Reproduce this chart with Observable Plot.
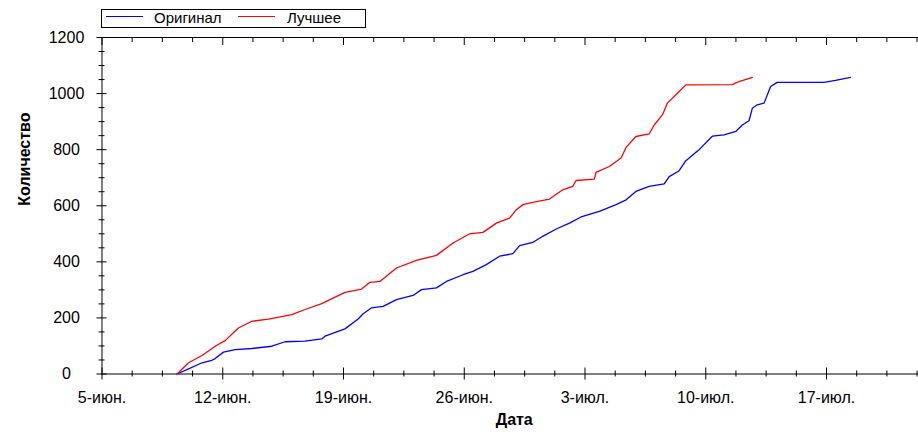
<!DOCTYPE html>
<html>
<head>
<meta charset="utf-8">
<script src="https://cdn.jsdelivr.net/npm/d3@7"></script>
<script src="https://cdn.jsdelivr.net/npm/@observablehq/plot@0.6"></script>
<style>
  body { margin: 0; background: #fff; font-family: "Liberation Sans", Arial, sans-serif; }
  #wrap { position: relative; width: 918px; height: 435px; }
  #legend { position: absolute; left: 101px; top: 9px; width: 265px; height: 19px; border: 1px solid #000; box-sizing: border-box; font-size: 15px; line-height: 17px; background: #fff; }
  #legend .ln { position: absolute; top: 6px; height: 0; width: 37px; border-top: 1px solid; }
  #legend .tx { position: absolute; top: -1px; white-space: nowrap; color: #000; }
  svg { position: absolute; left: 0; top: 0; }
</style>
</head>
<body>
<div id="wrap">
  <div id="legend">
    <span class="ln" style="left:4px;border-color:#0000ff"></span>
    <span class="tx" style="left:52px">Оригинал</span>
    <span class="ln" style="left:136px;border-color:#ff0000"></span>
    <span class="tx" style="left:185px">Лучшее</span>
  </div>
</div>
<script>
// ---- data ----
const seriesNames = ["Оригинал", "Лучшее"];
const seriesColors = ["#0000ff", "#ff0000"];

const origDates = ["06-09 08:24","06-10 00:30","06-10 19:10","06-11 08:50","06-11 13:25","06-12 01:00","06-12 17:15","06-13 16:35","06-14 20:10","06-15 14:40","06-16 18:30","06-17 17:45","06-17 22:20","06-19 02:00","06-19 20:25","06-20 03:20","06-20 15:10","06-21 07:10","06-22 01:40","06-23 00:45","06-23 12:30","06-24 09:20","06-24 23:15","06-25 22:20","06-26 12:00","06-27 06:40","06-28 01:10","06-28 19:40","06-29 05:00","06-29 23:15","06-30 13:10","07-01 08:00","07-02 02:24","07-02 18:30","07-03 19:55","07-04 19:10","07-05 09:10","07-05 22:50","07-06 17:15","07-07 14:10","07-07 21:10","07-08 11:00","07-08 20:00","07-09 10:00","07-09 14:50","07-10 09:10","07-11 01:25","07-11 17:45","07-12 02:50","07-12 12:15","07-12 16:50","07-12 23:45","07-13 09:10","07-13 18:15","07-14 03:20","07-16 20:25","07-17 12:30","07-18 09:20"];
const origValues = [0,18,40,49,55,78,87,91,99,115,117,125,135,161,196,215,236,241,265,280,301,307,330,354,366,390,420,429,458,469,491,517,538,560,580,604,621,651,669,678,704,725,760,790,800,848,853,865,888,903,948,960,966,1025,1040,1040,1047,1058];

const bestDates = ["06-09 08:24","06-10 00:30","06-10 19:10","06-11 13:25","06-12 03:20","06-12 21:50","06-13 16:35","06-14 15:35","06-16 00:00","06-16 18:30","06-17 17:45","06-19 02:00","06-20 01:10","06-20 12:45","06-21 02:40","06-22 01:40","06-23 05:30","06-24 09:20","06-25 08:24","06-26 07:30","06-27 02:00","06-27 20:40","06-28 15:00","06-29 00:30","06-29 09:36","06-29 23:15","06-30 22:35","07-01 17:00","07-02 07:00","07-02 11:30","07-03 13:00","07-03 15:20","07-04 09:50","07-05 02:10","07-05 09:10","07-05 22:50","07-06 17:15","07-07 00:15","07-07 11:45","07-07 18:40","07-08 08:40","07-08 20:25","07-11 13:00","07-11 22:20","07-12 16:50"];
const bestValues = [0,40,66,99,119,164,188,196,212,230,251,291,303,327,330,378,405,423,467,500,505,538,556,586,604,612,624,657,669,690,695,719,740,770,808,847,856,888,924,966,1001,1031,1032,1043,1058];

const xTickDates = ["2023-06-05","2023-06-12","2023-06-19","2023-06-26","2023-07-03","2023-07-10","2023-07-17"];
const xTickLabels = ["5-июн.","12-июн.","19-июн.","26-июн.","3-июл.","10-июл.","17-июл."];
const yTicks = [0,200,400,600,800,1000,1200];
const xTitle = "Дата";
const yTitle = "Количество";

// ---- build ----
const parseT = d3.utcParse("%Y-%m-%d %H:%M");
const parseD = d3.utcParse("%Y-%m-%d");
const rows = [
  ...origDates.map((d, i) => ({series: seriesNames[0], date: parseT("2023-" + d), value: origValues[i]})),
  ...bestDates.map((d, i) => ({series: seriesNames[1], date: parseT("2023-" + d), value: bestValues[i]}))
];
const xStart = parseD("2023-06-05");
const xEnd = parseT("2023-07-22 08:00");
const majorX = xTickDates.map(parseD);
const labelOf = new Map(majorX.map((d, i) => [+d, xTickLabels[i]]));
const minorX = d3.range(0, 40).map(k => new Date(+xStart + k * 1.75 * 864e5)).filter(d => d <= xEnd && !labelOf.has(+d));
const minorY = d3.range(0, 1201, 50).filter(v => !yTicks.includes(v));
const blank = () => "";

const chart = Plot.plot({
  width: 918,
  height: 435,
  marginLeft: 101.5,
  marginRight: 0,
  marginTop: 37,
  marginBottom: 61.5,
  style: {fontFamily: "'Liberation Sans', Arial, sans-serif", fontSize: "16px", color: "#000", background: "transparent", overflow: "visible"},
  x: {type: "utc", domain: [xStart, xEnd], label: null},
  y: {domain: [0, 1200], label: null},
  color: {domain: seriesNames, range: seriesColors},
  marks: [
    // frame lines
    Plot.ruleY([0, 1200], {stroke: "#000", strokeWidth: 1}),
    Plot.ruleX([xStart], {stroke: "#000", strokeWidth: 1}),
    // bottom axis ticks (crossing)
    Plot.axisX({anchor: "bottom", ticks: majorX, tickSize: 12, dy: -6, tickFormat: blank, stroke: "#000", label: null}),
    Plot.axisX({anchor: "bottom", ticks: minorX, tickSize: 6, dy: -3, tickFormat: blank, stroke: "#000", label: null}),
    Plot.axisX({anchor: "bottom", ticks: majorX, tickSize: 0, tickPadding: 17.5, tickFormat: d => labelOf.get(+d), fontSize: 16, fill: "#000", label: null}),
    // top line ticks (pointing inside)
    Plot.axisX({anchor: "top", ticks: majorX, tickSize: 7, dy: 7, tickFormat: blank, stroke: "#000", label: null}),
    Plot.axisX({anchor: "top", ticks: minorX, tickSize: 4, dy: 4, tickFormat: blank, stroke: "#000", label: null}),
    // left axis ticks (crossing)
    Plot.axisY({anchor: "left", ticks: yTicks, tickSize: 10, dx: 5, tickFormat: blank, stroke: "#000", label: null}),
    Plot.axisY({anchor: "left", ticks: minorY, tickSize: 6, dx: 3, tickFormat: blank, stroke: "#000", label: null}),
    Plot.axisY({anchor: "left", ticks: yTicks, tickSize: 0, tickPadding: 35.5, textAnchor: "middle", tickFormat: d => String(d), fontSize: 16, fill: "#000", label: null}),
    // titles
    Plot.text([yTitle], {frameAnchor: "left", rotate: -90, dx: -77.5, fontWeight: "bold", fontSize: 16, fill: "#000"}),
    Plot.text([xTitle], {frameAnchor: "bottom", dy: 51, dx: 4, fontWeight: "bold", fontSize: 16, fill: "#000"}),
    // data
    Plot.line(rows, {x: "date", y: "value", z: "series", stroke: "series", strokeWidth: 1.3})
  ]
});
document.getElementById("wrap").prepend(chart);
</script>
</body>
</html>
